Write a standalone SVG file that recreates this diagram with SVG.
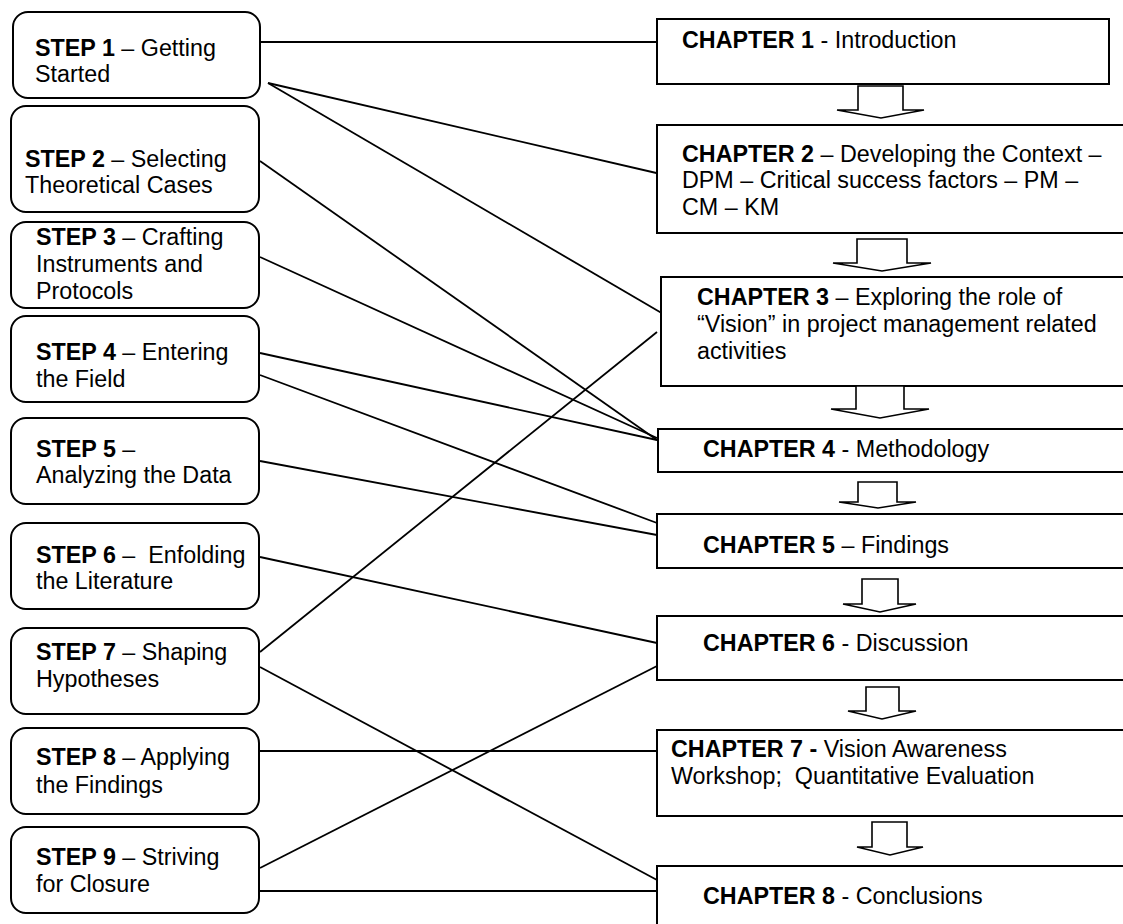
<svg xmlns="http://www.w3.org/2000/svg" width="1123" height="924" viewBox="0 0 1123 924">
  <style>
    text { font-family: "Liberation Sans", Arial, sans-serif; font-size: 23.3px; fill: #000; white-space: pre; }
    .b { font-weight: bold; }
    .step { fill: #fff; stroke: #000; stroke-width: 2; }
    .chap { fill: #fff; stroke: #000; stroke-width: 2; }
    .conn line { stroke: #000; stroke-width: 1.8; }
    .flow { fill: #fff; stroke: #000; stroke-width: 1.6; stroke-linejoin: miter; }
  </style>
  <rect width="1123" height="924" fill="#fff"/>

  <!-- links from research steps to thesis chapters -->
  <g id="connectors" class="conn">
    <line x1="260" y1="42" x2="657" y2="42"/>
    <line x1="268" y1="83" x2="665" y2="175"/>
    <line x1="268" y1="83" x2="665" y2="315"/>
    <line x1="260" y1="161" x2="657" y2="440"/>
    <line x1="260" y1="257" x2="657" y2="438"/>
    <line x1="260" y1="353" x2="657" y2="440"/>
    <line x1="260" y1="375" x2="657" y2="523"/>
    <line x1="260" y1="461" x2="657" y2="535"/>
    <line x1="260" y1="557" x2="657" y2="643"/>
    <line x1="260" y1="652" x2="657" y2="332"/>
    <line x1="260" y1="667" x2="657" y2="880"/>
    <line x1="260" y1="751" x2="657" y2="751"/>
    <line x1="260" y1="868" x2="657" y2="666"/>
    <line x1="260" y1="891" x2="657" y2="891"/>
  </g>

  <!-- research steps -->
  <g id="step1">
    <rect class="step" x="13" y="12" width="247" height="86" rx="15"/>
    <text x="35" y="56"><tspan class="b">STEP 1</tspan> – Getting</text>
    <text x="35" y="82">Started</text>
  </g>
  <g id="step2">
    <rect class="step" x="11" y="106" width="248" height="106" rx="15"/>
    <text x="25" y="167"><tspan class="b">STEP 2</tspan> – Selecting</text>
    <text x="25" y="193">Theoretical Cases</text>
  </g>
  <g id="step3">
    <rect class="step" x="11" y="222" width="248" height="86" rx="15"/>
    <text x="36" y="245"><tspan class="b">STEP 3</tspan> – Crafting</text>
    <text x="36" y="272">Instruments and</text>
    <text x="36" y="299">Protocols</text>
  </g>
  <g id="step4">
    <rect class="step" x="11" y="316" width="248" height="86" rx="15"/>
    <text x="36" y="360"><tspan class="b">STEP 4</tspan> – Entering</text>
    <text x="36" y="387">the Field</text>
  </g>
  <g id="step5">
    <rect class="step" x="11" y="418" width="248" height="86" rx="15"/>
    <text x="36" y="457"><tspan class="b">STEP 5</tspan> –</text>
    <text x="36" y="483">Analyzing the Data</text>
  </g>
  <g id="step6">
    <rect class="step" x="11" y="523" width="248" height="86" rx="15"/>
    <text x="36" y="563"><tspan class="b">STEP 6</tspan> –  Enfolding</text>
    <text x="36" y="589">the Literature</text>
  </g>
  <g id="step7">
    <rect class="step" x="11" y="628" width="248" height="86" rx="15"/>
    <text x="36" y="660"><tspan class="b">STEP 7</tspan> – Shaping</text>
    <text x="36" y="687">Hypotheses</text>
  </g>
  <g id="step8">
    <rect class="step" x="11" y="728" width="248" height="86" rx="15"/>
    <text x="36" y="765"><tspan class="b">STEP 8</tspan> – Applying</text>
    <text x="36" y="793">the Findings</text>
  </g>
  <g id="step9">
    <rect class="step" x="11" y="827" width="248" height="86" rx="15"/>
    <text x="36" y="865"><tspan class="b">STEP 9</tspan> – Striving</text>
    <text x="36" y="892">for Closure</text>
  </g>

  <!-- thesis chapters -->
  <g id="chapter1">
    <rect class="chap" x="657" y="19" width="452" height="65"/>
    <text x="682" y="48"><tspan class="b">CHAPTER 1</tspan> - Introduction</text>
  </g>
  <g id="chapter2">
    <rect class="chap" x="657" y="125" width="480" height="108"/>
    <text x="682" y="162"><tspan class="b">CHAPTER 2</tspan> – Developing the Context –</text>
    <text x="682" y="188">DPM – Critical success factors – PM –</text>
    <text x="682" y="215">CM – KM</text>
  </g>
  <g id="chapter3">
    <rect class="chap" x="661" y="277" width="480" height="109"/>
    <text x="697" y="305"><tspan class="b">CHAPTER 3</tspan> – Exploring the role of</text>
    <text x="697" y="332">“Vision” in project management related</text>
    <text x="697" y="359">activities</text>
  </g>
  <g id="chapter4">
    <rect class="chap" x="658" y="429" width="480" height="43"/>
    <text x="703" y="457"><tspan class="b">CHAPTER 4</tspan> - Methodology</text>
  </g>
  <g id="chapter5">
    <rect class="chap" x="657" y="514" width="480" height="54"/>
    <text x="703" y="553"><tspan class="b">CHAPTER 5</tspan> – Findings</text>
  </g>
  <g id="chapter6">
    <rect class="chap" x="657" y="616" width="480" height="64"/>
    <text x="703" y="651"><tspan class="b">CHAPTER 6</tspan> - Discussion</text>
  </g>
  <g id="chapter7">
    <rect class="chap" x="657" y="730" width="480" height="86"/>
    <text x="671" y="757"><tspan class="b">CHAPTER 7 -</tspan> Vision Awareness</text>
    <text x="671" y="784">Workshop;  Quantitative Evaluation</text>
  </g>
  <g id="chapter8">
    <rect class="chap" x="657" y="866" width="480" height="80"/>
    <text x="703" y="904"><tspan class="b">CHAPTER 8</tspan> - Conclusions</text>
  </g>

  <!-- block arrows between consecutive chapters -->
  <g id="flow-arrows" class="flow">
    <polygon points="858,86 903,86 903,110 924,110 881,118 837,110 858,110"/>
    <polygon points="857,239 907,239 907,263 931,263 882,271 833,263 857,263"/>
    <polygon points="856,386 904,386 904,409 929,409 880,418 831,409 856,409"/>
    <polygon points="858,482 897,482 897,502 916,502 878,508 839,502 858,502"/>
    <polygon points="862,579 898,579 898,604 916,604 880,612 843,604 862,604"/>
    <polygon points="866,687 899,687 899,711 916,711 882,719 848,711 866,711"/>
    <polygon points="872,822 907,822 907,847 923,847 890,855 857,847 872,847"/>
  </g>
</svg>
